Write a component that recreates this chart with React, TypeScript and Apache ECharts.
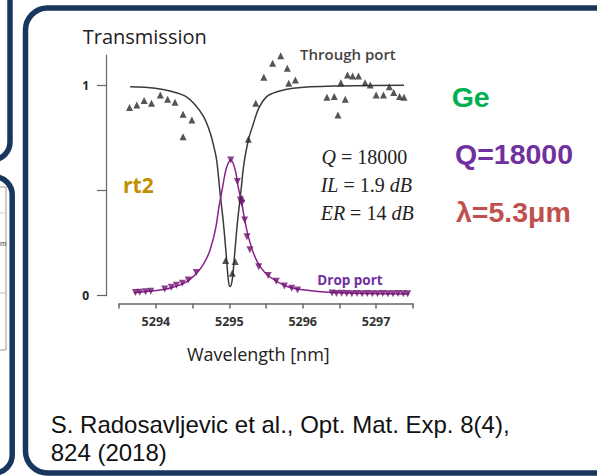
import React, { useEffect, useRef } from "react";
import * as echarts from "echarts";

// Wavelength [nm], transmission
const throughFit: [number, number][] = [
  [5293.65, 0.995], [5293.99, 0.988], [5294.22, 0.972], [5294.4, 0.95], [5294.53, 0.91],
  [5294.65, 0.852], [5294.74, 0.775], [5294.8, 0.694], [5294.83, 0.64], [5294.87, 0.503],
  [5294.92, 0.345], [5294.96, 0.186], [5294.99, 0.065], [5295.01, 0.043], [5295.04, 0.075],
  [5295.07, 0.186], [5295.11, 0.345], [5295.16, 0.503], [5295.2, 0.63], [5295.26, 0.741],
  [5295.33, 0.821], [5295.4, 0.892], [5295.51, 0.948], [5295.65, 0.971], [5295.87, 0.988],
  [5296.42, 0.998], [5297.38, 1.002],
];

const throughData: [number, number][] = [
  [5293.64, 0.896], [5293.74, 0.908], [5293.84, 0.929], [5293.94, 0.916], [5294.06, 0.956],
  [5294.16, 0.935], [5294.26, 0.921], [5294.37, 0.864], [5294.49, 0.837], [5294.37, 0.757],
  [5294.95, 0.167], [5295.04, 0.107], [5295.08, 0.162], [5295.17, 0.464], [5295.26, 0.745],
  [5295.36, 0.916], [5295.47, 1.04], [5295.59, 1.107], [5295.7, 1.143], [5295.79, 1.083],
  [5295.81, 1.011], [5295.9, 1.027], [5296.33, 0.945], [5296.43, 0.948], [5296.58, 0.935],
  [5296.48, 0.86], [5296.52, 1.014], [5296.61, 1.051], [5296.68, 1.046], [5296.76, 1.046],
  [5296.85, 1.014], [5296.92, 1.003], [5297.0, 0.956], [5297.1, 0.956], [5297.18, 0.995],
  [5297.24, 0.967], [5297.32, 0.948], [5297.38, 0.945],
];

const dropFit: [number, number][] = [
  [5293.7, 0.014], [5294.0, 0.024], [5294.2, 0.036], [5294.4, 0.062], [5294.5, 0.088],
  [5294.6, 0.125], [5294.68, 0.17], [5294.74, 0.22], [5294.81, 0.313], [5294.86, 0.424],
  [5294.91, 0.519], [5294.96, 0.607], [5295.02, 0.646], [5295.08, 0.6], [5295.12, 0.519],
  [5295.17, 0.44], [5295.21, 0.36], [5295.26, 0.281], [5295.33, 0.202], [5295.42, 0.138],
  [5295.55, 0.09], [5295.78, 0.045], [5296.0, 0.028], [5296.4, 0.015], [5297.45, 0.008],
];

const dropData: [number, number][] = [
  [5293.72, 0.015], [5293.78, 0.016], [5293.86, 0.019], [5293.93, 0.021], [5294.12, 0.031],
  [5294.21, 0.04], [5294.28, 0.05], [5294.36, 0.059], [5294.44, 0.074], [5294.55, 0.11],
  [5295.02, 0.646], [5295.11, 0.543], [5295.15, 0.456], [5295.17, 0.44], [5295.21, 0.36],
  [5295.24, 0.281], [5295.28, 0.218], [5295.4, 0.138], [5295.53, 0.096], [5295.64, 0.068],
  [5295.75, 0.046], [5295.85, 0.035], [5295.93, 0.027], [5296.4, 0.012], [5296.46, 0.01],
  [5296.53, 0.011], [5296.6, 0.01], [5296.67, 0.009], [5296.74, 0.01], [5296.81, 0.009],
  [5296.88, 0.01], [5296.95, 0.009], [5297.02, 0.009], [5297.09, 0.01], [5297.16, 0.009],
  [5297.23, 0.009], [5297.3, 0.01], [5297.37, 0.009], [5297.43, 0.009],
];

const xLabelValues = [5294, 5295, 5296, 5297];
const yTickValues = [0, 0.5, 1];
const yLabelValues = [0, 1];

const NAVY = "#17375e";
const SANS = '"Liberation Sans", Arial, sans-serif';
const UI = '"Open Sans", sans-serif';
const SERIF = '"Liberation Serif", serif';

export default function App() {
  const ref = useRef<HTMLDivElement>(null);
  useEffect(() => {
    const chart = echarts.init(ref.current!, null, { renderer: "svg" });
    const axisColor = "#666";
    const txt = (text: string, x: number, y: number, extra: any) => ({
      type: "text",
      x,
      y,
      z: 100,
      silent: true,
      style: { text, align: "left", verticalAlign: "middle", ...extra },
    });
    const mathRich = { i: { fontStyle: "italic", fontSize: 20, fontFamily: SERIF, fill: "#222" } };
    chart.setOption({
      animation: false,
      backgroundColor: "#fff",
      grid: [
        { left: 119.2, top: 55, width: 293.6, height: 248.4 },
        { left: 106, top: 55, width: 10, height: 240.7 },
      ],
      xAxis: [
        {
          gridIndex: 0,
          type: "value",
          min: 5293.5,
          max: 5297.5,
          interval: 0.5,
          axisLine: { show: true, onZero: false, lineStyle: { color: axisColor, width: 1.5 } },
          axisTick: { show: true, inside: false, length: 5, lineStyle: { color: axisColor, width: 1.5 } },
          axisLabel: {
            formatter: (v: number) => (xLabelValues.indexOf(v) >= 0 ? String(v) : ""),
            color: "#333",
            fontWeight: "bold",
            fontSize: 12.5,
            fontFamily: UI,
            margin: 12,
          },
          splitLine: { show: false },
        },
        { gridIndex: 1, type: "value", show: false, min: 0, max: 1 },
      ],
      yAxis: [
        { gridIndex: 0, type: "value", show: false, min: -0.037, max: 1.146 },
        {
          gridIndex: 1,
          type: "value",
          min: 0,
          max: 1.146,
          position: "left",
          axisLine: { show: true, onZero: false, lineStyle: { color: axisColor, width: 1.2 } },
          axisTick: { show: true, length: 9, customValues: yTickValues, lineStyle: { color: axisColor, width: 1.2 } },
          axisLabel: {
            customValues: yLabelValues,
            color: "#222",
            fontWeight: "bold",
            fontSize: 12,
            fontFamily: UI,
            margin: 17,
          },
          splitLine: { show: false },
        },
      ],
      series: [
        {
          type: "line",
          name: "Through fit",
          xAxisIndex: 0,
          yAxisIndex: 0,
          data: throughFit,
          symbol: "none",
          smooth: 0.35,
          lineStyle: { color: "#3a3a3a", width: 1.5 },
          z: 2,
        },
        {
          type: "line",
          name: "Drop fit",
          xAxisIndex: 0,
          yAxisIndex: 0,
          data: dropFit,
          symbol: "none",
          smooth: 0.35,
          lineStyle: { color: "#8a1f8e", width: 1.5 },
          z: 3,
        },
        {
          type: "scatter",
          name: "Through port",
          xAxisIndex: 0,
          yAxisIndex: 0,
          data: throughData,
          symbol: "triangle",
          symbolSize: 7,
          itemStyle: { color: "#2a2a2a" },
          z: 4,
        },
        {
          type: "scatter",
          name: "Drop port",
          xAxisIndex: 0,
          yAxisIndex: 0,
          data: dropData,
          symbol: "triangle",
          symbolRotate: 180,
          symbolSize: 7,
          itemStyle: { color: "#6f136f" },
          z: 5,
        },
      ],
      graphic: {
        elements: [
          // left partial panels
          {
            type: "rect",
            z: -10,
            silent: true,
            shape: { x: -100, y: -50, width: 110, height: 210, r: 18 },
            style: { fill: "#fff", stroke: NAVY, lineWidth: 5.5 },
          },
          {
            type: "rect",
            z: -10,
            silent: true,
            shape: { x: -100, y: 176.7, width: 112.2, height: 296.3, r: 18 },
            style: { fill: "#fff", stroke: NAVY, lineWidth: 5.5 },
          },
          {
            type: "rect",
            z: -9,
            silent: true,
            shape: { x: -20, y: 187, width: 26, height: 163 },
            style: { fill: "#fff", stroke: "#999", lineWidth: 1 },
          },
          {
            type: "line",
            z: -9,
            silent: true,
            shape: { x1: -20, y1: 213, x2: 6, y2: 213 },
            style: { stroke: "#ccc", lineWidth: 1 },
          },
          {
            type: "line",
            z: -9,
            silent: true,
            shape: { x1: -20, y1: 293, x2: 6, y2: 293 },
            style: { stroke: "#bbb", lineWidth: 1 },
          },
          txt("m", 0, 243, { fontSize: 7.5, fontFamily: SANS, fill: "#333" }),
          // main panel
          {
            type: "rect",
            z: -10,
            silent: true,
            shape: { x: 25.5, y: 8, width: 600, height: 465, r: 22 },
            style: { fill: "#fff", stroke: NAVY, lineWidth: 5.5 },
          },
          txt("Transmission", 82.7, 36.7, { fontSize: 20, fontFamily: UI, fill: "#222" }),
          {
            type: "text",
            x: 258.3,
            y: 354.3,
            z: 100,
            silent: true,
            style: {
              text: "Wavelength [nm]",
              align: "center",
              verticalAlign: "middle",
              fontSize: 18,
              fontFamily: UI,
              fill: "#222",
            },
          },
          txt("Through port", 300, 54, { fontSize: 15, fontWeight: 600, fontFamily: UI, fill: "#444" }),
          txt("Drop port", 317.3, 280, { fontSize: 13.5, fontWeight: "bold", fontFamily: UI, fill: "#7030a0" }),
          txt("rt2", 123, 185, { fontSize: 21, fontWeight: "bold", fontFamily: UI, fill: "#bf9000" }),
          txt("{i|Q} = 18000", 321.5, 156.7, { fontSize: 20, fontFamily: SERIF, fill: "#222", rich: mathRich }),
          txt("{i|IL} = 1.9 {i|dB}", 320.7, 185, { fontSize: 20, fontFamily: SERIF, fill: "#222", rich: mathRich }),
          txt("{i|ER} = 14 {i|dB}", 320.7, 213.3, { fontSize: 20, fontFamily: SERIF, fill: "#222", rich: mathRich }),
          txt("Ge", 451.7, 96.7, { fontSize: 28.5, fontWeight: "bold", fontFamily: SANS, fill: "#00b050" }),
          txt("Q=18000", 455, 154, { fontSize: 28.5, fontWeight: "bold", fontFamily: SANS, fill: "#7030a0" }),
          txt("λ=5.3μm", 456, 211.7, { fontSize: 28.5, fontWeight: "bold", fontFamily: SANS, fill: "#c0504d" }),
          txt("S. Radosavljevic et al., Opt. Mat. Exp. 8(4),", 50.7, 424, {
            fontSize: 24,
            fontFamily: SANS,
            fill: "#111",
          }),
          txt("824 (2018)", 50.7, 452.5, { fontSize: 24, fontFamily: SANS, fill: "#111" }),
        ],
      },
    });
    return () => chart.dispose();
  }, []);
  return (
    <div
      ref={ref}
      style={{ position: "fixed", left: 0, top: 0, width: 597, height: 476, background: "#fff" }}
    />
  );
}
